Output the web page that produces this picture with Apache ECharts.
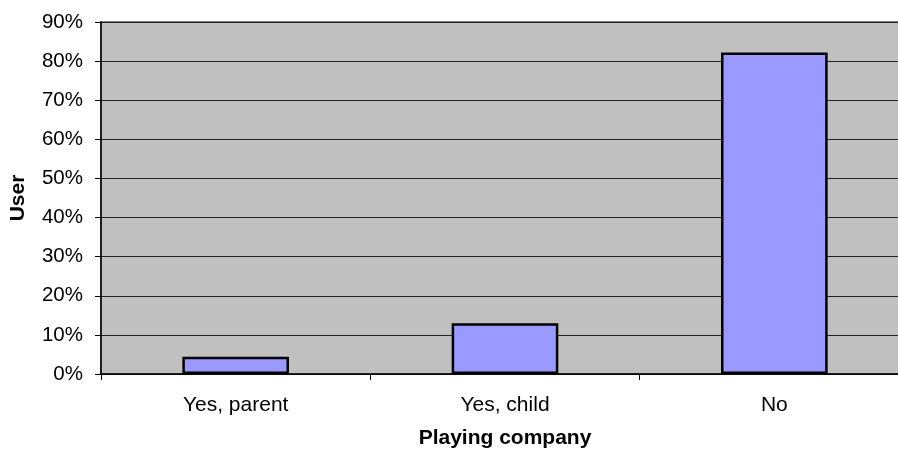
<!DOCTYPE html>
<html>
<head>
<meta charset="utf-8">
<script src="https://cdn.jsdelivr.net/npm/echarts@6/dist/echarts.min.js"></script>
<style>
html,body{margin:0;padding:0;background:#fff;overflow:hidden;width:898px;height:455px;}
#chart{width:909px;height:455px;}
</style>
</head>
<body>
<div id="chart"></div>
<script>
const categories = ["Yes, parent", "Yes, child", "No"];
const userShare = [4.4, 13.0, 82.2];
const yTicks = { min: 0, max: 90, interval: 10 };
const xTitle = "Playing company";
const yTitle = "User";

const FONT = '"Liberation Sans", Arial, sans-serif';
const chart = echarts.init(document.getElementById('chart'), null, { renderer: 'canvas' });
chart.setOption({
  animation: false,
  backgroundColor: '#ffffff',
  grid: {
    left: 101, top: 22, bottom: 81, right: 0,
    show: true, backgroundColor: '#C0C0C0', borderColor: '#808080', borderWidth: 2
  },
  xAxis: {
    type: 'category',
    data: categories,
    name: xTitle,
    nameLocation: 'middle',
    nameGap: 54,
    nameTextStyle: { fontFamily: FONT, fontSize: 21, fontWeight: 'bold', color: '#000' },
    axisLine: { show: true, lineStyle: { color: '#000', width: 1.5 } },
    axisTick: { show: true, length: 6, lineStyle: { color: '#000', width: 1 } },
    axisLabel: { fontFamily: FONT, fontSize: 21, color: '#000', margin: 21 },
    splitLine: { show: false }
  },
  yAxis: {
    type: 'value',
    min: yTicks.min, max: yTicks.max, interval: yTicks.interval,
    name: yTitle,
    nameLocation: 'middle',
    nameRotate: 90,
    nameGap: 72,
    nameTextStyle: { fontFamily: FONT, fontSize: 21, fontWeight: 'bold', color: '#000' },
    axisLine: { show: true, lineStyle: { color: '#000', width: 1.5 } },
    axisTick: { show: true, length: 6, lineStyle: { color: '#000', width: 1 } },
    axisLabel: { fontFamily: FONT, fontSize: 20.5, color: '#000', margin: 18, formatter: '{value}%' },
    splitLine: { show: true, lineStyle: { color: '#222', width: 1 } }
  },
  series: [{
    type: 'bar',
    data: userShare,
    barWidth: '39.6%',
    itemStyle: { color: '#9999FF', borderColor: '#000', borderWidth: 2.5 }
  }]
});
</script>
</body>
</html>
